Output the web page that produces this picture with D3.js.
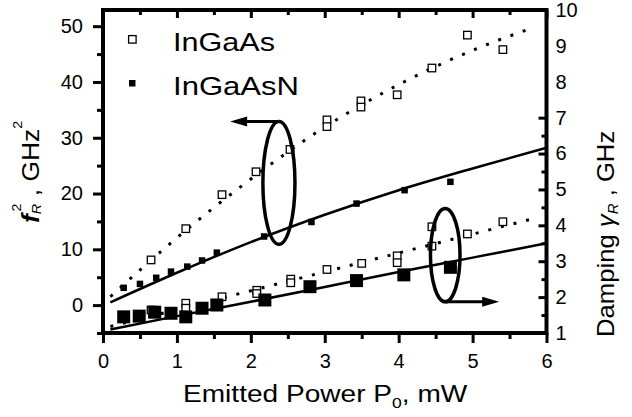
<!DOCTYPE html>
<html>
<head>
<meta charset="utf-8">
<script src="https://cdn.jsdelivr.net/npm/d3@7"></script>
<style>
  body { margin: 0; background: #fff; }
  svg text { font-family: "Liberation Sans", Arial, sans-serif; fill: #000; }
</style>
</head>
<body>
<div id="chart"></div>
<script>
// emitted power P0 (mW) vs f_R^2 (GHz^2), left axis
var inGaAsFr2 = [[0.65, 8.1], [1.12, 13.7], [1.61, 19.8], [2.07, 23.9], [2.53, 27.9], [3.03, 33.2], [3.03, 32.0],
  [3.49, 36.6], [3.49, 35.5], [3.98, 37.7], [4.45, 42.5], [4.93, 48.4], [5.41, 45.8]];
var inGaAsNFr2 = [[0.28, 3.1], [0.50, 3.8], [0.72, 4.9], [0.92, 6.0], [1.14, 6.9], [1.34, 8.0], [1.54, 9.4],
  [2.18, 12.3], [2.82, 14.9], [3.43, 18.2], [4.08, 20.6], [4.70, 22.1]];
// emitted power P0 (mW) vs damping gamma_R (GHz), right axis
var inGaAsDamp = [[0.65, 1.64], [1.12, 1.83], [1.12, 1.69], [1.61, 2.01], [2.08, 2.19], [2.08, 2.10], [2.54, 2.50],
  [2.54, 2.40], [3.03, 2.77], [3.50, 2.94], [3.98, 3.15], [3.98, 2.96], [4.45, 3.42], [4.45, 3.96], [4.93, 3.76], [5.41, 4.10]];
var inGaAsNDamp = [[0.28, 1.45], [0.49, 1.47], [0.70, 1.58], [0.92, 1.55], [1.12, 1.45], [1.34, 1.69], [1.54, 1.78],
  [2.19, 1.92], [2.80, 2.29], [3.43, 2.46], [4.07, 2.62], [4.70, 2.83]];
// fit curves
var fitInGaAsFr2 = [[0.1, 1.5], [0.94, 11.4], [1.95, 22.1], [2.94, 31.4], [4.07, 40.0], [5.08, 46.1], [5.79, 49.6]];
var fitInGaAsNFr2 = [[0.1, 0.5], [1, 5.8], [2, 11.3], [3, 16.2], [4, 20.6], [5, 24.5], [6, 28.2]];
var fitInGaAsDamp = [[0.1, 1.18], [5.79, 4.17]];
var fitInGaAsNDamp = [[0.1, 1.1], [1, 1.47], [2, 1.87], [3, 2.28], [4, 2.7], [5, 3.1], [6, 3.5]];

// tick values
var xMajor = [0, 1, 2, 3, 4, 5, 6];
var xMinor = [0.5, 1.5, 2.5, 3.5, 4.5, 5.5];
var leftMajor = [0, 10, 20, 30, 40, 50];
var leftMinor = [-5, 5, 15, 25, 35, 45];
var rightLabels = [1, 2, 3, 4, 5, 6, 7, 8, 9, 10];
var rightMajor = [1, 2, 3, 4, 5, 6, 7];
var rightMinor = [1.5, 2.5, 3.5, 4.5, 5.5, 6.5];

var legendNames = ['InGaAs', 'InGaAsN'];

var svg = d3.select('#chart').append('svg').attr('width', 632).attr('height', 417);

var x = d3.scaleLinear().domain([0, 6]).range([103, 546.5]);
var yL = d3.scaleLinear().domain([-5, 52.9]).range([333, 10]);
var yR = d3.scaleLinear().domain([1, 10]).range([333, 10]);

function addAxis(gen, tr) {
  var g = svg.append('g').attr('transform', tr).call(gen);
  g.select('.domain').remove();
  g.attr('font-size', 20).attr('font-family', '"Liberation Sans", Arial, sans-serif');
  g.selectAll('.tick line').attr('stroke', '#000').attr('stroke-width', 3);
  g.selectAll('.tick text').attr('fill', '#000');
  return g;
}

var fmt = d3.format('d');
addAxis(d3.axisBottom(x).tickValues(xMajor).tickSize(10).tickPadding(11).tickFormat(fmt), 'translate(0,333)');
addAxis(d3.axisBottom(x).tickValues(xMinor).tickSize(6).tickFormat(''), 'translate(0,333)');
addAxis(d3.axisTop(x).tickValues(xMajor).tickSize(-8).tickFormat(''), 'translate(0,10)');
addAxis(d3.axisTop(x).tickValues(xMinor).tickSize(-5).tickFormat(''), 'translate(0,10)');
addAxis(d3.axisLeft(yL).tickValues(leftMajor).tickSize(10).tickPadding(10).tickFormat(fmt), 'translate(103,0)');
addAxis(d3.axisLeft(yL).tickValues(leftMinor).tickSize(6).tickFormat(''), 'translate(103,0)');
addAxis(d3.axisRight(yR).tickValues(rightLabels).tickSize(0).tickPadding(9).tickFormat(fmt), 'translate(546.5,0)');
addAxis(d3.axisRight(yR).tickValues(rightMajor).tickSize(-8).tickFormat(''), 'translate(546.5,0)');
addAxis(d3.axisRight(yR).tickValues(rightMinor).tickSize(-5).tickFormat(''), 'translate(546.5,0)');

// frame
svg.append('rect')
  .attr('x', x(0)).attr('y', yR(10))
  .attr('width', x(6) - x(0)).attr('height', yR(1) - yR(10))
  .attr('fill', 'none').attr('stroke', '#000').attr('stroke-width', 4);

// fit lines
function lineOn(ys) {
  return d3.line().x(function(d) { return x(d[0]); }).y(function(d) { return ys(d[1]); }).curve(d3.curveMonotoneX);
}
var gLines = svg.append('g').attr('fill', 'none').attr('stroke', '#000');
gLines.append('path').attr('d', lineOn(yL)(fitInGaAsFr2)).attr('stroke-width', 3).attr('stroke-dasharray', '3,10');
gLines.append('path').attr('d', lineOn(yL)(fitInGaAsNFr2)).attr('stroke-width', 2.5);
gLines.append('path').attr('d', lineOn(yR)(fitInGaAsDamp)).attr('stroke-width', 3).attr('stroke-dasharray', '3,10');
gLines.append('path').attr('d', lineOn(yR)(fitInGaAsNDamp)).attr('stroke-width', 2.5);

// markers
function squares(data, ys, size, open) {
  svg.append('g').selectAll('rect').data(data).enter().append('rect')
    .attr('x', function(d) { return x(d[0]) - size / 2; })
    .attr('y', function(d) { return ys(d[1]) - size / 2; })
    .attr('width', size).attr('height', size)
    .attr('fill', open ? '#fff' : '#000')
    .attr('stroke', '#000').attr('stroke-width', open ? 1.3 : 0);
}
squares(inGaAsFr2, yL, 7.5, true);
squares(inGaAsNFr2, yL, 6.5, false);
squares(inGaAsDamp, yR, 7.5, true);
squares(inGaAsNDamp, yR, 13, false);

// ellipses with arrows pointing to their axes
function marker(cx, cy, rx, ry, ys, fromTop, tipX) {
  var px = x(cx), py = ys(cy);
  var prx = x(cx + rx) - px, pry = ys(cy - ry) - py;
  svg.append('ellipse').attr('cx', px).attr('cy', py).attr('rx', prx).attr('ry', pry)
    .attr('fill', 'none').attr('stroke', '#000').attr('stroke-width', 3.5);
  var ay = fromTop ? py - pry : py + pry;
  var tx = x(tipX), dir = tx < px ? 1 : -1;
  svg.append('line').attr('x1', px).attr('y1', ay).attr('x2', tx + dir * 12).attr('y2', ay)
    .attr('stroke', '#000').attr('stroke-width', 3);
  svg.append('path')
    .attr('d', 'M' + tx + ',' + ay + 'L' + (tx + dir * 17) + ',' + (ay - 5) + 'L' + (tx + dir * 17) + ',' + (ay + 5) + 'Z')
    .attr('fill', '#000');
}
marker(2.38, 21.9, 0.217, 11.0, yL, true, 1.72);
marker(4.63, 3.17, 0.2, 1.30, yR, false, 5.36);

// legend
var leg = svg.append('g');
leg.append('rect').attr('x', 128.6).attr('y', 35.6).attr('width', 7.5).attr('height', 7.5)
  .attr('fill', '#fff').attr('stroke', '#000').attr('stroke-width', 1.3);
leg.append('rect').attr('x', 129).attr('y', 80).attr('width', 6.5).attr('height', 6.5).attr('fill', '#000');
leg.append('text').attr('x', 173).attr('y', 51).attr('font-size', 26)
  .attr('textLength', 102).attr('lengthAdjust', 'spacingAndGlyphs').text(legendNames[0]);
leg.append('text').attr('x', 173).attr('y', 95).attr('font-size', 26)
  .attr('textLength', 126).attr('lengthAdjust', 'spacingAndGlyphs').text(legendNames[1]);

// x axis title
var xt = svg.append('text').attr('transform', 'translate(183,402) scale(1.17,1)').attr('font-size', 24);
xt.append('tspan').text('Emitted Power P');
xt.append('tspan').attr('font-size', 15).attr('dy', 6).text('0');
xt.append('tspan').attr('dy', -6).text(', mW');

// left axis title
var lt = svg.append('text').attr('transform', 'translate(38.5,223) rotate(-90) scale(1.1,1)').attr('font-size', 24);
lt.append('tspan').attr('font-style', 'italic').attr('font-weight', 'bold').text('f');
lt.append('tspan').attr('font-style', 'italic').attr('font-size', 13).attr('dy', 2).text('R');
lt.append('tspan').attr('font-size', 13).attr('dx', -7).attr('dy', -20).text('2');
lt.append('tspan').attr('dy', 18).text(' , GHz');
lt.append('tspan').attr('font-size', 13).attr('dy', -17).text('2');

// right axis title
var rt = svg.append('text').attr('transform', 'translate(614,337) rotate(-90) scale(1.07,1)').attr('font-size', 24);
rt.append('tspan').text('Damping ');
rt.append('tspan').attr('font-style', 'italic').text('\u03b3');
rt.append('tspan').attr('font-style', 'italic').attr('font-size', 14).attr('dy', 4).text('R');
rt.append('tspan').attr('dy', -4).text(' , GHz');
</script>
</body>
</html>
